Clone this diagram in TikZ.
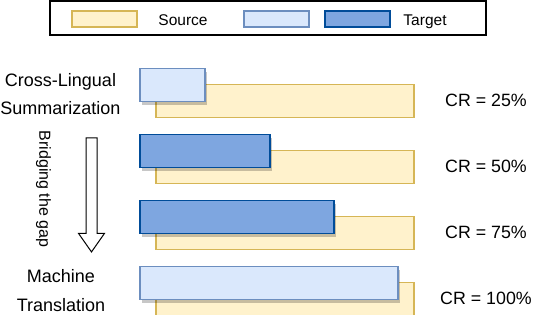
\documentclass[tikz,border=0pt]{standalone}
\usepackage{fontspec}
\setmainfont{Liberation Sans}
\usetikzlibrary{shapes.arrows}
\definecolor{srcfill}{HTML}{FFF2CC}
\definecolor{srcline}{HTML}{D6B656}
\definecolor{lightfill}{HTML}{DAE8FC}
\definecolor{lightline}{HTML}{6C8EBF}
\definecolor{darkfill}{HTML}{7EA6E0}
\definecolor{darkline}{HTML}{004C99}

\begin{document}
\begin{tikzpicture}[x=1pt, y=-1pt,
	every node/.style={font=\fontsize{17.8}{21}\selectfont},
	bar/.style={draw, line width=1.5pt, inner sep=0pt, anchor=north west, minimum height=33pt},
	srcbar/.style={bar, draw=srcline, fill=srcfill},
	tgtshadow/.style={fill=black, opacity=0.22},
	tgtlight/.style={bar, draw=lightline, fill=lightfill},
	tgtdark/.style={bar, draw=darkline, fill=darkfill},
	swatch/.style={draw, line width=1.5pt, inner sep=0pt, anchor=north west, minimum width=65pt, minimum height=16pt},
	legendtext/.style={anchor=base, font=\fontsize{15.5}{18}\selectfont}]
	\useasboundingbox (0,0) rectangle (534,314);
	% legend
	\node[draw, line width=2pt, inner sep=0pt, minimum width=436pt, minimum height=34pt] (legend) at (268,18) {};
	\node[swatch, draw=srcline, fill=srcfill] (srcsw) at (71,10) {};
	\node[legendtext] (srctext) at (183,25.5) {Source};
	\node[swatch, draw=lightline, fill=lightfill] (lightsw) at (243,10) {};
	\node[swatch, draw=darkline, fill=darkfill] (darksw) at (324,10) {};
	\node[legendtext] (tgttext) at (425,25.5) {Target};
	% one row per compression ratio
	\foreach \i/\w/\tgtstyle/\crval in {1/65/tgtlight/25, 2/130/tgtdark/50, 3/194/tgtdark/75, 4/258/tgtlight/100} {
		\pgfmathsetmacro\rowy{67.7+66*(\i-1)}
		\node[srcbar, minimum width=258pt] (src\i) at (155,\rowy+16) {};
		\fill[tgtshadow] (142,\rowy+4.5) rectangle ++(\w,33);
		\node[\tgtstyle, minimum width=\w pt] (tgt\i) at (139,\rowy) {};
		\node[anchor=base] (cr\i) at (486,\rowy+38.5) {CR = \crval\%};
	}
	\node[anchor=base, font=\fontsize{18}{21}\selectfont] (cls1) at (60.5,86) {Cross-Lingual};
	\node[anchor=base, font=\fontsize{18}{21}\selectfont] (cls2) at (60.5,114.3) {Summarization};
	\node[anchor=base, font=\fontsize{18}{21}\selectfont] (mt1) at (61,282.7) {Machine};
	\node[anchor=base, font=\fontsize{18}{21}\selectfont] (mt2) at (61,311) {Translation};
	\node[single arrow, draw, fill=white, line width=1pt, rotate=-90, inner sep=5pt, minimum height=114pt,
		single arrow head extend=7.5pt, single arrow tip angle=70] (gaparrow) at (91.5,191) {};
	\node[rotate=-90, font=\fontsize{16}{19}\selectfont] (gaptext) at (43.5,189) {Bridging the gap};
\end{tikzpicture}
\end{document}
